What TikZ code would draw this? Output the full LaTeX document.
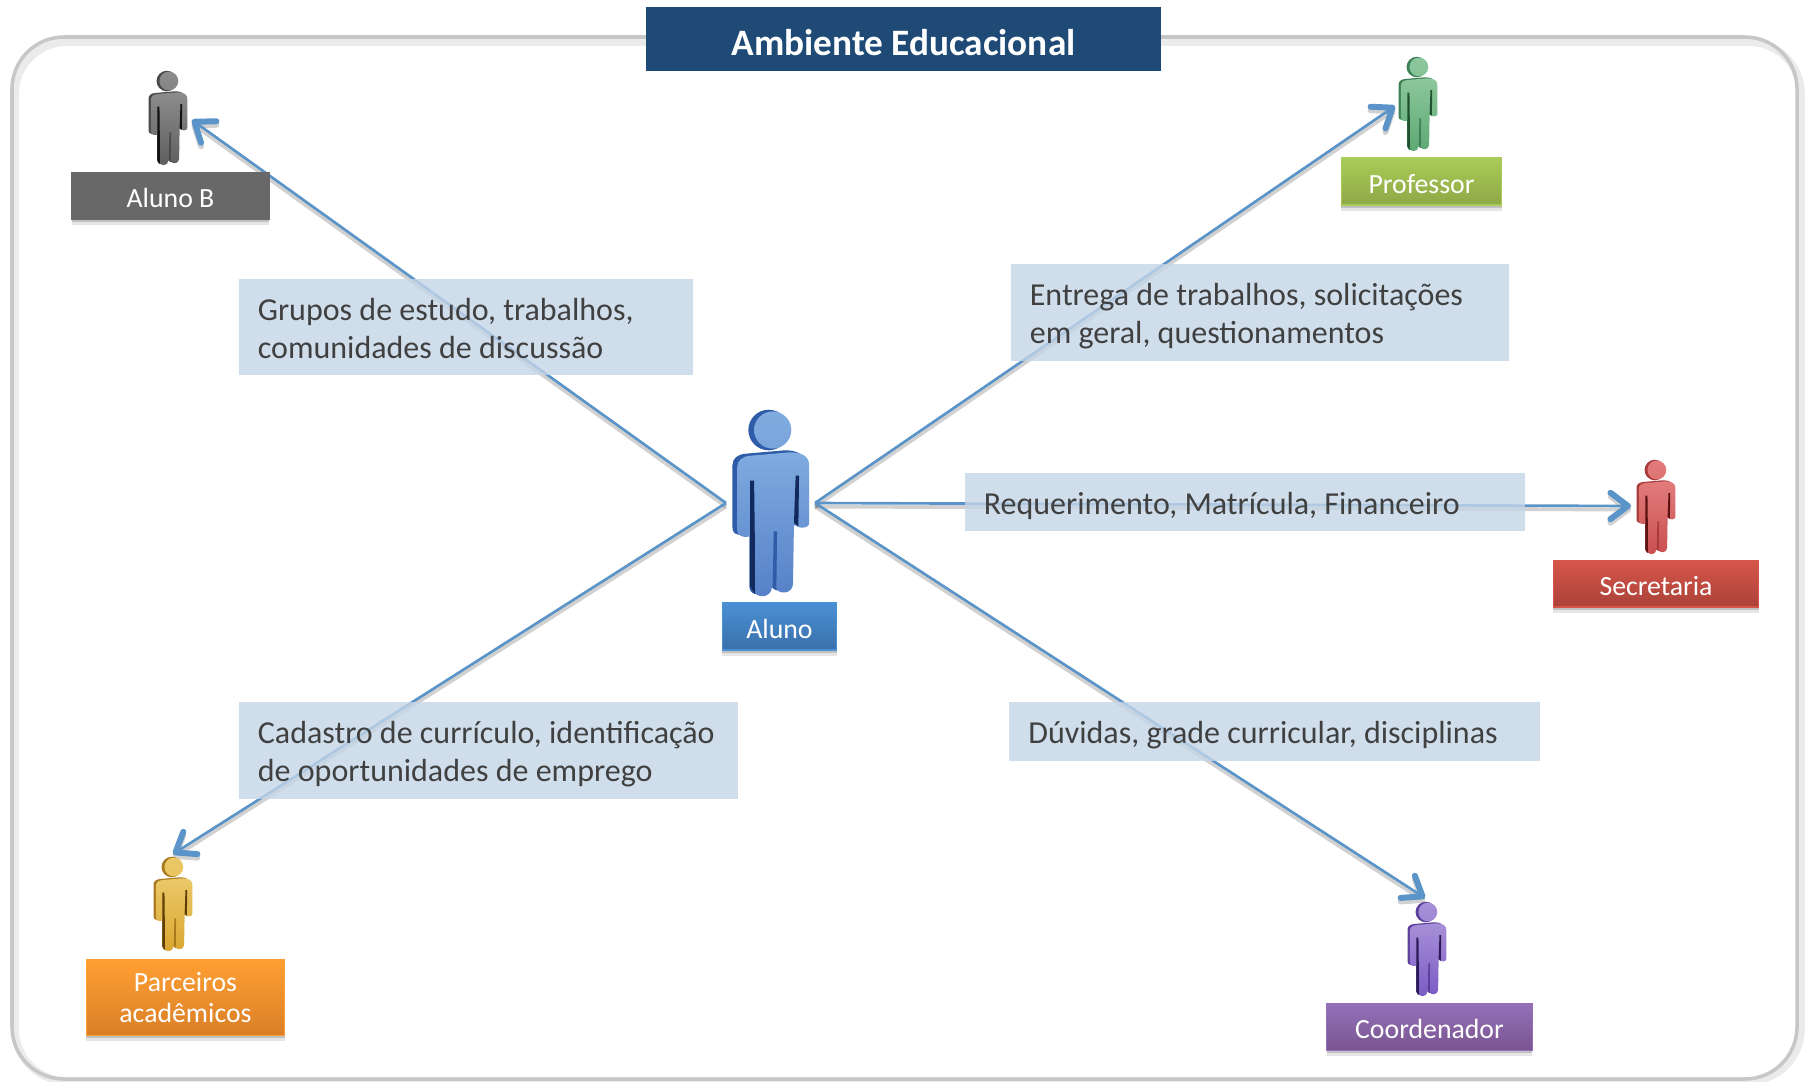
\documentclass[tikz,border=0pt]{standalone}
\usepackage{fontspec}
\setmainfont{Carlito}
\usetikzlibrary{arrows.meta,shadows}

\definecolor{linecol}{HTML}{5A94C8}
\definecolor{boxcol}{HTML}{C5D6E8}
\definecolor{textcol}{HTML}{404040}
\definecolor{titlecol}{HTML}{1F4A75}

% person colours: top, bottom, side, slit
\newcommand{\personcolors}[5]{
	\definecolor{#1top}{HTML}{#2}
	\definecolor{#1bot}{HTML}{#3}
	\definecolor{#1side}{HTML}{#4}
	\definecolor{#1slit}{HTML}{#5}
}
\personcolors{aluno}{7FABE0}{5580C8}{2F5CA8}{12295E}
\personcolors{alunob}{8C8C8C}{5E5E5E}{4A4A4A}{111111}
\personcolors{professor}{8CC79C}{5DA873}{3E8056}{1F5130}
\personcolors{secretaria}{E27B7B}{C94F4F}{A83A3A}{5C1212}
\personcolors{parceiros}{EBC868}{D9A630}{A87A1E}{5E3F08}
\personcolors{coordenador}{A78FD8}{7A5AC4}{5C3F9A}{2C1A55}

% name box colours: top, bottom
\definecolor{alunoT}{HTML}{4A90D4}
\definecolor{alunoB}{HTML}{3A70AA}
\definecolor{alunobT}{HTML}{686868}
\definecolor{alunobB}{HTML}{686868}
\definecolor{professorT}{HTML}{A9CC58}
\definecolor{professorB}{HTML}{8FA846}
\definecolor{secretariaT}{HTML}{D6554A}
\definecolor{secretariaB}{HTML}{AA4238}
\definecolor{parceirosT}{HTML}{FF9F33}
\definecolor{parceirosB}{HTML}{D97F26}
\definecolor{coordenadorT}{HTML}{9370B8}
\definecolor{coordenadorB}{HTML}{7A5590}

\tikzset{
	arrowline/.style={draw=linecol, line width=0.75pt, -{Straight Barb[length=5pt,width=7.5pt,line width=1.7pt,round]},
		preaction={draw=black, draw opacity=0.18, line width=1.1pt, transform canvas={yshift=-1pt}}},
	infobox/.style={fill=boxcol, fill opacity=0.8, text opacity=1, text=textcol, align=left, inner xsep=0.19cm, inner ysep=0pt,
		font=\fontsize{9.1}{10.8}\selectfont,
		execute at begin node={\spaceskip=0pt\xspaceskip=0pt\rule{0pt}{9pt}},
		execute at end node={\rule[-2pt]{0pt}{2pt}}},
	namebox/.style={top color=#1T, bottom color=#1B, draw=#1T, line width=0.3pt, text=white, align=center, inner sep=0pt,
		font=\fontsize{7.9}{9}\selectfont,
		execute at begin node={\spaceskip=0pt\xspaceskip=0pt\rule{0pt}{6.6pt}},
		general shadow={fill=black, opacity=0.1, shadow yshift=-1.6pt, shadow xshift=0pt},
		drop shadow={shadow xshift=0pt, shadow yshift=-0.8pt, opacity=0.35}},
	titlebox/.style={fill=titlecol, text=white, inner sep=0pt, font=\fontsize{10.6}{12}\bfseries\selectfont,
		execute at begin node={\rule{0pt}{9.2pt}}}
}

% position, scale, colour set
\newcommand{\personfig}[4]{
	\begin{scope}[shift={(#1,#2)}, scale=#3]
		\def\bodypath{(-60,76) -- (55,66) .. controls (95,66) and (113,80) .. (113,105) -- (113,275)
			.. controls (113,292) and (75,295) .. (68,275) -- (65,455) .. controls (65,485) and (20,490) .. (15,465)
			-- (3,465) .. controls (0,500) and (-50,500) .. (-50,470) -- (-50,310) .. controls (-70,320) and (-100,320) .. (-100,295)
			-- (-100,110) .. controls (-100,90) and (-85,78) .. (-60,76) -- cycle}
		\fill [#4side] (-7,0) circle [radius=60];
		\fill [#4side, shift={(-14,-6)}] \bodypath;
		\shade [top color=#4top, bottom color=#4top!85!#4bot] (5,0) circle [radius=55];
		\shade [top color=#4top, bottom color=#4bot] \bodypath;
		\fill [#4slit] (-62,150) -- (-50,150) -- (-48,310) -- (-48,485) -- (-62,462) -- cycle;
		\fill [#4slit] (73,135) -- (83,135) -- (81,285) -- (68,275) -- cycle;
		\fill [#4side] (8,300) -- (18,300) -- (16,462) -- (5,468) -- cycle;
	\end{scope}
}

\begin{document}
\begin{tikzpicture}[x=0.01cm, y=-0.01cm]
	\useasboundingbox (0,0) rectangle (1805,1081);

	\draw [line width=2.2pt, draw=black!8, fill=white, rounded corners=0.52cm] (15,42) rectangle (1801,1081);
	\draw [line width=1pt, draw=black!22, rounded corners=0.52cm] (12,37) rectangle (1797,1079);

	\node [titlebox, minimum width=5.15cm, minimum height=0.64cm] (title) at (903.5,39) {Ambiente Educacional};

	\coordinate (alunoesq) at (726,503);
	\coordinate (alunodir) at (815,503);
	\coordinate (tipalunob) at (192,120);
	\coordinate (tipprofessor) at (1395,106);
	\coordinate (tipsecretaria) at (1631,506);
	\coordinate (tipcoordenador) at (1425,898);
	\coordinate (tipparceiros) at (173,854);

	\draw [arrowline] (alunoesq) -- (tipalunob);
	\draw [arrowline] (alunoesq) -- (tipparceiros);
	\draw [arrowline] (alunodir) -- (tipprofessor);
	\draw [arrowline] (alunodir) -- (tipsecretaria);
	\draw [arrowline] (alunodir) -- (tipcoordenador);

	\personfig{771}{430}{0.338}{aluno}
	\personfig{168}{81}{0.171}{alunob}
	\personfig{1418}{67}{0.171}{professor}
	\personfig{1656}{470}{0.171}{secretaria}
	\personfig{173}{867}{0.171}{parceiros}
	\personfig{1427}{912}{0.171}{coordenador}

	\node [namebox=alunob, minimum width=1.97cm, minimum height=0.46cm] (lblalunob) at (170.5,196) {Aluno B};
	\node [namebox=professor, minimum width=1.60cm, minimum height=0.47cm] (lblprofessor) at (1421.5,181.5) {Professor};
	\node [namebox=secretaria, minimum width=2.05cm, minimum height=0.46cm] (lblsecretaria) at (1656,584) {Secretaria};
	\node [namebox=aluno, minimum width=1.14cm, minimum height=0.47cm] (lblaluno) at (779.5,626.5) {Aluno};
	\node [namebox=parceiros, minimum width=1.98cm, minimum height=0.76cm] (lblparceiros) at (185.5,997.5) {Parceiros\\acadêmicos};
	\node [namebox=coordenador, minimum width=2.05cm, minimum height=0.46cm] (lblcoordenador) at (1429.5,1027) {Coordenador};

	\node [infobox, text width=4.16cm, minimum height=0.96cm] (grupos) at (466,327) {Grupos de estudo, trabalhos,\\comunidades de discussão};
	\node [infobox, text width=4.60cm, minimum height=0.96cm] (entrega) at (1260,312.5) {Entrega de trabalhos, solicitações\\em geral, questionamentos};
	\node [infobox, text width=5.22cm, minimum height=0.58cm] (requerimento) at (1245,502) {Requerimento, Matrícula, Financeiro};
	\node [infobox, text width=4.61cm, minimum height=0.97cm] (cadastro) at (488.5,750.5) {Cadastro de currículo, identificação\\de oportunidades de emprego};
	\node [infobox, text width=4.92cm, minimum height=0.59cm] (duvidas) at (1274.5,731.5) {Dúvidas, grade curricular, disciplinas};
\end{tikzpicture}
\end{document}
